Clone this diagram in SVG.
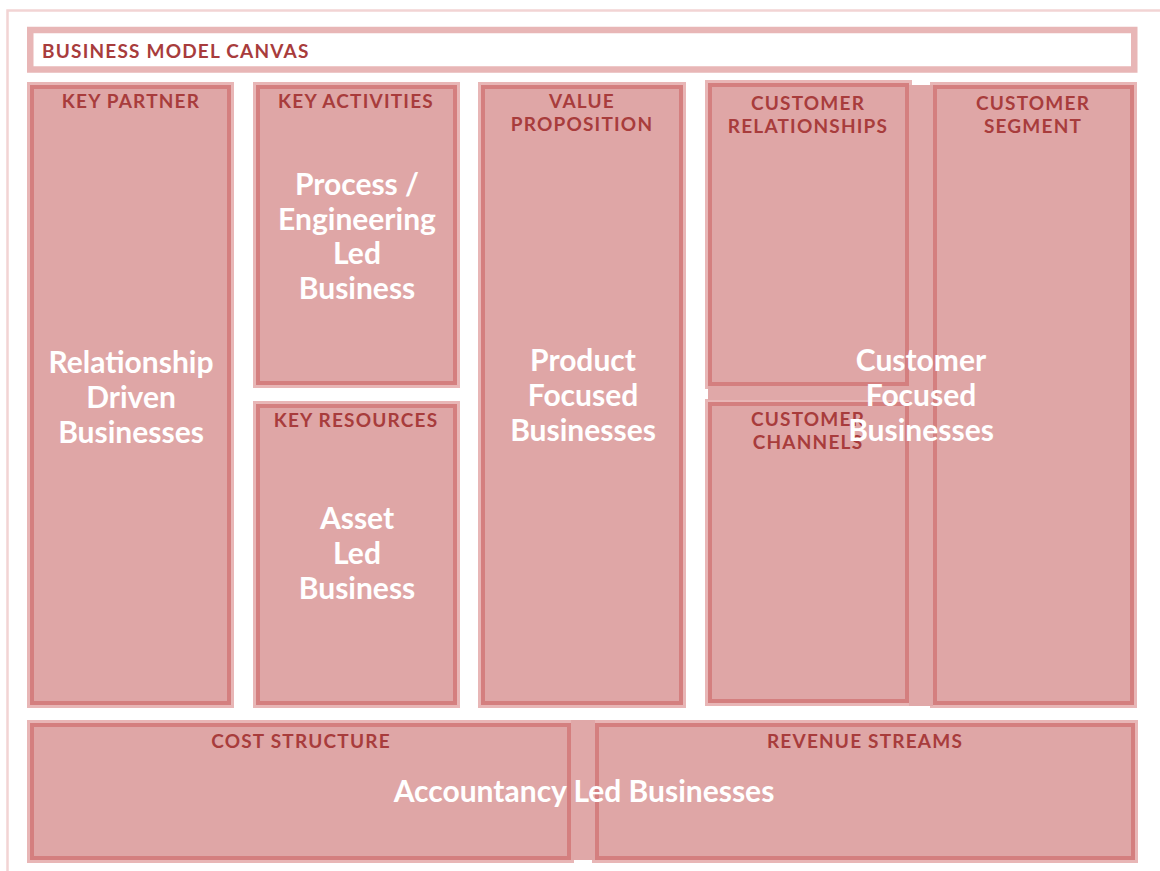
<svg xmlns="http://www.w3.org/2000/svg" width="1160" height="871" viewBox="0 0 1160 871">
<style>
.edge{fill:#e8b6b6}
.box{fill:#dfa6a6;stroke:#d47f7f;stroke-width:4}
.gap{fill:#e0a8a8}
.lbl{font-family:Lato,"Open Sans",sans-serif;font-weight:700;font-size:19px;letter-spacing:1.2px;fill:#a83c3c;text-anchor:middle}
.big{font-family:Lato,"Open Sans",sans-serif;font-weight:700;font-size:30px;fill:#ffffff;text-anchor:middle}
</style>
<rect x="0" y="0" width="1160" height="871" fill="#ffffff"/>
<rect x="7.5" y="10.5" width="1170" height="880" fill="none" stroke="#f2d4d4" stroke-width="2.5"/>
<g id="header">
<rect x="30.25" y="30" width="1104" height="39.5" fill="#ffffff" stroke="#e8b6b6" stroke-width="6.5"/>
<text class="lbl" x="42" y="58" style="text-anchor:start">BUSINESS MODEL CANVAS</text>
</g>
<g id="key-partner">
<rect class="edge" x="27" y="82" width="207" height="626"/>
<rect class="box" x="32" y="87" width="197" height="616"/>
<text class="lbl" x="131" y="108">KEY PARTNER</text>
<text class="big" x="131" y="373">Relationship</text>
<text class="big" x="131" y="408">Driven</text>
<text class="big" x="131" y="443">Businesses</text>
</g>
<g id="key-activities">
<rect class="edge" x="253" y="82" width="207" height="306"/>
<rect class="box" x="258" y="87" width="197" height="296"/>
<text class="lbl" x="356" y="108">KEY ACTIVITIES</text>
<text class="big" x="357" y="195">Process /</text>
<text class="big" x="357" y="230">Engineering</text>
<text class="big" x="357" y="264">Led</text>
<text class="big" x="357" y="299">Business</text>
</g>
<g id="key-resources">
<rect class="edge" x="253" y="401" width="207" height="307"/>
<rect class="box" x="258" y="406" width="197" height="297"/>
<text class="lbl" x="356" y="427">KEY RESOURCES</text>
<text class="big" x="357" y="529">Asset</text>
<text class="big" x="357" y="564">Led</text>
<text class="big" x="357" y="599">Business</text>
</g>
<g id="value-proposition">
<rect class="edge" x="478" y="82" width="208" height="626"/>
<rect class="box" x="483" y="87" width="198" height="616"/>
<text class="lbl" x="582" y="108">VALUE</text>
<text class="lbl" x="582" y="131">PROPOSITION</text>
<text class="big" x="583" y="371">Product</text>
<text class="big" x="583" y="406">Focused</text>
<text class="big" x="583" y="441">Businesses</text>
</g>
<g id="customer-relationships">
<rect class="edge" x="705" y="80" width="207" height="309"/>
<rect class="box" x="710" y="85" width="197" height="299"/>
<text class="lbl" x="808" y="110">CUSTOMER</text>
<text class="lbl" x="808" y="133">RELATIONSHIPS</text>
</g>
<g id="customer-channels">
<rect class="edge" x="705" y="399" width="207" height="307"/>
<rect class="box" x="710" y="404" width="197" height="297"/>
<text class="lbl" x="808" y="426">CUSTOMER</text>
<text class="lbl" x="808" y="449">CHANNELS</text>
</g>
<g id="customer-segment">
<rect class="edge" x="930" y="82" width="207" height="626"/>
<rect class="box" x="935" y="87" width="197" height="616"/>
<text class="lbl" x="1033" y="110">CUSTOMER</text>
<text class="lbl" x="1033" y="133">SEGMENT</text>
</g>
<g id="cost-structure">
<rect class="edge" x="27" y="720" width="547" height="143"/>
<rect class="box" x="32" y="725" width="537" height="133"/>
<text class="lbl" x="301" y="748">COST STRUCTURE</text>
</g>
<g id="revenue-streams">
<rect class="edge" x="592" y="720" width="546" height="143"/>
<rect class="box" x="597" y="725" width="536" height="133"/>
<text class="lbl" x="865" y="748">REVENUE STREAMS</text>
</g>
<g id="group-gaps">
<rect class="gap" x="909" y="85" width="24" height="621"/>
<rect class="gap" x="708" y="386" width="201" height="14"/>
<rect class="gap" x="571" y="720" width="24" height="140"/>
</g>
<g id="customer-focused">
<text class="big" x="921" y="371">Customer</text>
<text class="big" x="921" y="406">Focused</text>
<text class="big" x="921" y="441">Businesses</text>
</g>
<g id="accountancy-led">
<text class="big" x="584" y="802">Accountancy Led Businesses</text>
</g>
<g id="connectors"/>
</svg>
